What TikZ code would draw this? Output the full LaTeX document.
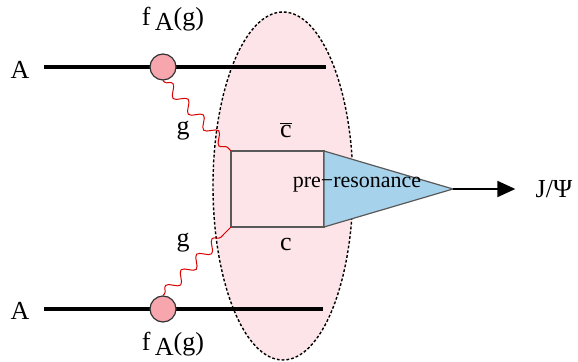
\documentclass[tikz,border=0pt]{standalone}
\usepackage{fontspec}
\setmainfont{Liberation Serif}
\usetikzlibrary{positioning, arrows.meta, decorations.pathmorphing, calc}
\definecolor{blobpink}{RGB}{253,228,232}
\definecolor{dotpink}{RGB}{246,166,172}
\definecolor{coneblue}{RGB}{166,210,236}
\tikzset{
  nucleus/.style={line width=2pt},
  parton/.style={circle, draw=black!80, fill=dotpink, minimum size=13pt, inner sep=0pt, line width=0.6pt},
  gluon/.style={red!85!black, line width=0.5pt, decorate,
    decoration={snake, segment length=11pt, amplitude=2.6pt, pre length=1pt, post length=2pt}},
  quark/.style={draw=black!65, line width=0.6pt},
  lbl/.style={inner sep=1pt, font=\fontsize{13}{15}\selectfont},
  small lbl/.style={inner sep=1pt, font=\fontsize{11}{13}\selectfont}
}
\begin{document}
\begin{tikzpicture}[x=0.5pt, y=-0.5pt]
\useasboundingbox (0,0) rectangle (578,362);

% interaction region
\draw[dash pattern=on 1.4pt off 1pt, line width=0.7pt, fill=blobpink] (283,186) ellipse [x radius=35pt, y radius=87pt];

% incoming nuclei
\node[lbl] (nucA1) at (20,70) {A};
\node[lbl] (nucA2) at (20,311) {A};
\coordinate (top0) at (44,67);
\coordinate (top1) at (326,67);
\coordinate (bot0) at (44,309);
\coordinate (bot1) at (323,309);
\draw[nucleus] (top0) -- (top1);
\draw[nucleus] (bot0) -- (bot1);

% c cbar pair and pre-resonance
\coordinate (qTL) at (231,151);
\coordinate (qTR) at (324,151);
\coordinate (qBL) at (231,227);
\coordinate (qBR) at (324,227);
\coordinate (apex) at (453,189);
\draw[quark] (qTL) -- (qTR) -- (qBR) -- (qBL) -- cycle;
\draw[quark, fill=coneblue] (qTR) -- (apex) -- (qBR) -- cycle;
\node[small lbl] (pre) at (357,185) {pre−resonance};
\node[lbl] (cbar) at (286,130) {$\overline{\mbox{c}}$};
\node[lbl] (cq) at (286,245) {c};

% outgoing J/Psi
\node[lbl] (jpsi) at (554,189) {J/Ψ};
\draw[line width=1pt, -{Triangle[length=9pt, width=8pt]}] (apex) -- ([xshift=-9pt]jpsi.west);

% gluons from the nuclei
\node[parton] (fTop) at (163,67) {};
\node[parton] (fBot) at (163,309) {};
\draw[gluon] (fTop.south) -- (qTL);
\draw[gluon] (fBot.north) -- (qBL);
\node[lbl] (gTop) at (183,131) {g};
\node[lbl] (gBot) at (183,243) {g};
\node[lbl] (fAtop) at (173,19) {f\,\raisebox{-0.45ex}{A}(g)};
\node[lbl] (fAbot) at (173,344) {f\,\raisebox{-0.45ex}{A}(g)};
\end{tikzpicture}
\end{document}
